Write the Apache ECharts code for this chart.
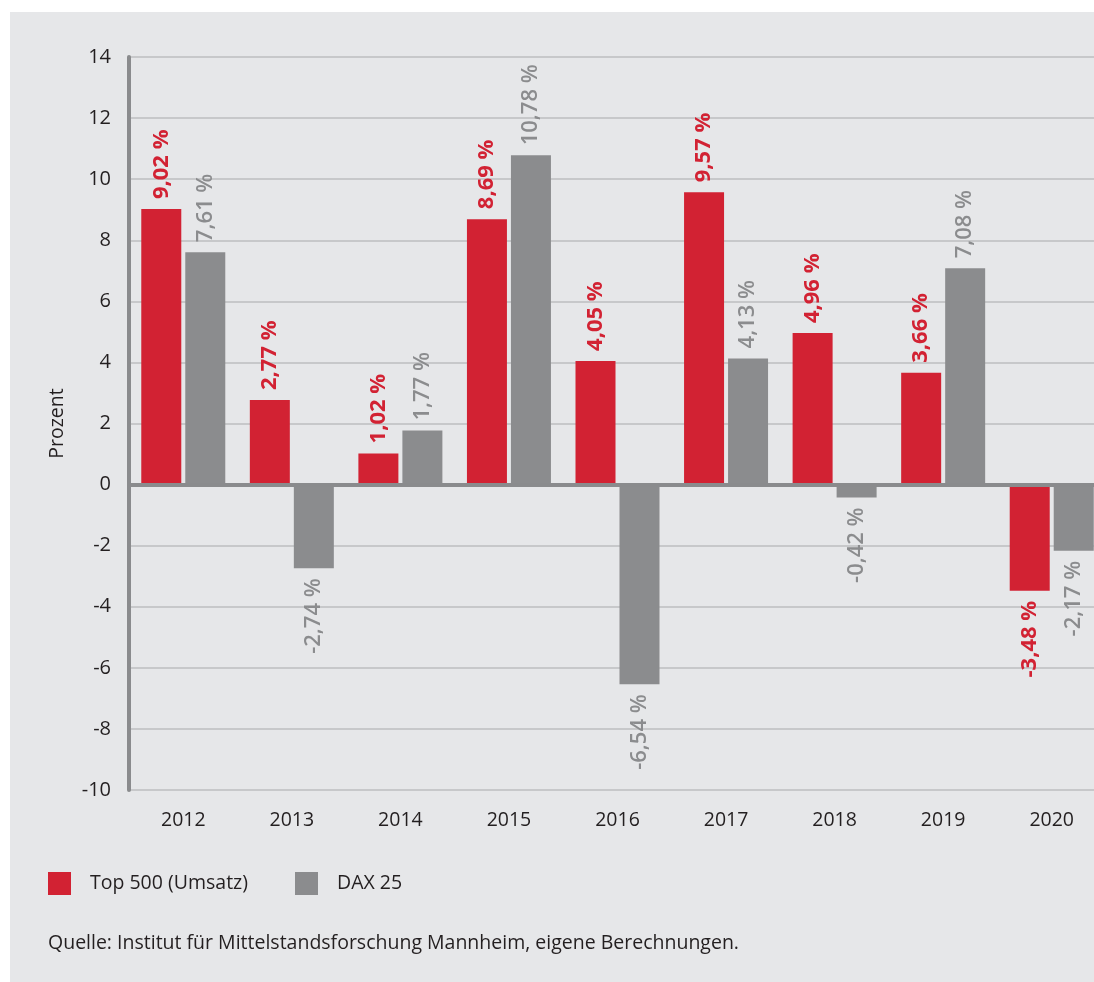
<!DOCTYPE html>
<html>
<head>
<meta charset="utf-8">
<script src="https://cdn.jsdelivr.net/npm/echarts@6/dist/echarts.min.js"></script>
<style>
  html, body { margin: 0; padding: 0; background: #ffffff; }
  #wrap { position: relative; width: 1094px; height: 982px; overflow: hidden; }
  #panel { position: absolute; left: 10px; top: 12px; right: 0; bottom: 0; background: #e6e7e9; }
  #chart { position: absolute; left: 0; top: 0; width: 1106px; height: 982px; }
</style>
</head>
<body>
<div id="wrap">
  <div id="panel"></div>
  <div id="chart"></div>
</div>
<script>
// Jahre und Renditen in Prozent
const years = ['2012', '2013', '2014', '2015', '2016', '2017', '2018', '2019', '2020'];
const top500 = [9.02, 2.77, 1.02, 8.69, 4.05, 9.57, 4.96, 3.66, -3.48];
const dax25 = [7.61, -2.74, 1.77, 10.78, -6.54, 4.13, -0.42, 7.08, -2.17];
const seriesNames = ['Top 500 (Umsatz)', 'DAX 25'];
const sourceText = 'Quelle: Institut für Mittelstandsforschung Mannheim, eigene Berechnungen.';

const FONT = '"Open Sans", "Noto Sans", sans-serif';
const RED = '#d22233';
const GREY = '#8b8c8e';
const TEXT = '#231f20';

const fmt = v => v.toFixed(2).replace('.', ',') + ' %';

// Labels sit above positive bars and below negative ones, rotated to read upwards
function withLabels(values) {
  return values.map(v => ({
    value: v,
    label: {
      position: v < 0 ? 'bottom' : 'top',
      align: v < 0 ? 'right' : 'left'
    }
  }));
}

function barSeries(name, values, color, weight) {
  return {
    name: name,
    type: 'bar',
    barWidth: 40,
    barGap: '10%',
    itemStyle: { color: color },
    data: withLabels(values),
    label: {
      show: true,
      rotate: 90,
      distance: 10,
      verticalAlign: 'middle',
      color: color,
      fontFamily: FONT,
      fontSize: 22,
      fontWeight: weight,
      formatter: p => fmt(p.value)
    }
  };
}

const chart = echarts.init(document.getElementById('chart'), null, { renderer: 'canvas' });

const red = barSeries(seriesNames[0], top500, RED, 'bold');
// zero line drawn over the bar bases
red.markLine = {
  silent: true,
  symbol: ['none', 'none'],
  label: { show: false },
  lineStyle: { color: '#8a8b8d', width: 4, type: 'solid' },
  data: [{ yAxis: 0 }]
};

chart.setOption({
  backgroundColor: 'transparent',
  animation: false,
  textStyle: { fontFamily: FONT },
  grid: { left: 129, right: 0, top: 57, bottom: 192 },
  legend: [
    {
      data: [seriesNames[0]], left: 48, top: 872, padding: 0,
      icon: 'rect', itemWidth: 23, itemHeight: 23,
      textStyle: { fontFamily: FONT, fontSize: 19.5, color: TEXT, padding: [0, 0, 0, 14] }
    },
    {
      data: [seriesNames[1]], left: 295, top: 872, padding: 0,
      icon: 'rect', itemWidth: 23, itemHeight: 23,
      textStyle: { fontFamily: FONT, fontSize: 19.5, color: TEXT, padding: [0, 0, 0, 14] }
    }
  ],
  xAxis: {
    type: 'category',
    data: years,
    position: 'bottom',
    axisLine: { show: false, onZero: false },
    axisTick: { show: false },
    axisLabel: { margin: 20, fontFamily: FONT, fontSize: 19.5, color: TEXT }
  },
  yAxis: {
    type: 'value',
    min: -10,
    max: 14,
    interval: 2,
    name: 'Prozent',
    nameLocation: 'middle',
    nameGap: 62,
    nameRotate: 90,
    nameTextStyle: { fontFamily: FONT, fontSize: 19.5, color: TEXT },
    axisLine: { show: true, lineStyle: { color: '#8a8b8d', width: 4 } },
    axisTick: { show: false },
    axisLabel: { margin: 18, fontFamily: FONT, fontSize: 20, color: TEXT },
    splitLine: { show: true, lineStyle: { color: '#c7c8ca', width: 2 } }
  },
  graphic: [
    {
      type: 'text',
      left: 48,
      top: 933,
      style: { text: sourceText, font: '19.5px ' + FONT, fill: TEXT }
    }
  ],
  series: [red, barSeries(seriesNames[1], dax25, GREY, 600)]
});
</script>
</body>
</html>
